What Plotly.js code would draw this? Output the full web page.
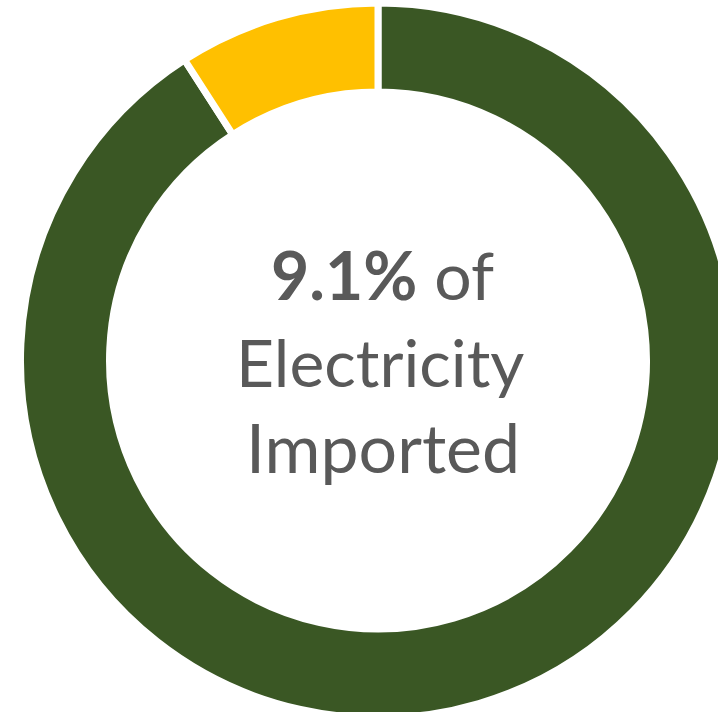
<!DOCTYPE html>
<html>
<head>
<meta charset="utf-8">
<script src="https://cdn.plot.ly/plotly-3.0.1.min.js"></script>
<style>
html, body { margin: 0; padding: 0; overflow: hidden; background: #fff; }
#chart { width: 756px; height: 721px; }
</style>
</head>
<body>
<div id="chart"></div>
<script>
var labels = ["Domestic", "Imported"];
var values = [90.9, 9.1];
var headline = "9.1%";
var line2 = "Electricity";
var line3 = "Imported";

var W = 756, H = 721;
function py(p) { return 1 - p / H; }
var font = { family: "Lato, 'Noto Sans', sans-serif", size: 66, color: "#595959" };
var font3 = { family: "Lato, 'Noto Sans', sans-serif", size: 68, color: "#595959" };

var data = [{
  type: "pie",
  labels: labels,
  values: values,
  hole: 0.751,
  sort: false,
  direction: "clockwise",
  rotation: 0,
  textinfo: "none",
  hoverinfo: "none",
  marker: { colors: ["#3A5724", "#FFC000"], line: { color: "#ffffff", width: 7 } },
  domain: { x: [0, 1], y: [1 - 718 / H, 1 - 3 / H] }
}];

var layout = {
  width: W, height: H,
  margin: { l: 0, r: 0, t: 0, b: 0 },
  paper_bgcolor: "#ffffff",
  showlegend: false,
  annotations: [
    { text: "<b>" + headline + "</b> of", x: 382 / W, y: py(274), xref: "paper", yref: "paper", showarrow: false, xanchor: "center", yanchor: "middle", font: font },
    { text: line2, x: 380 / W, y: py(361), xref: "paper", yref: "paper", showarrow: false, xanchor: "center", yanchor: "middle", font: font },
    { text: line3, x: 383 / W, y: py(447), xref: "paper", yref: "paper", showarrow: false, xanchor: "center", yanchor: "middle", font: font3 }
  ]
};

Plotly.newPlot("chart", data, layout, { displayModeBar: false, staticPlot: true });
</script>
</body>
</html>
